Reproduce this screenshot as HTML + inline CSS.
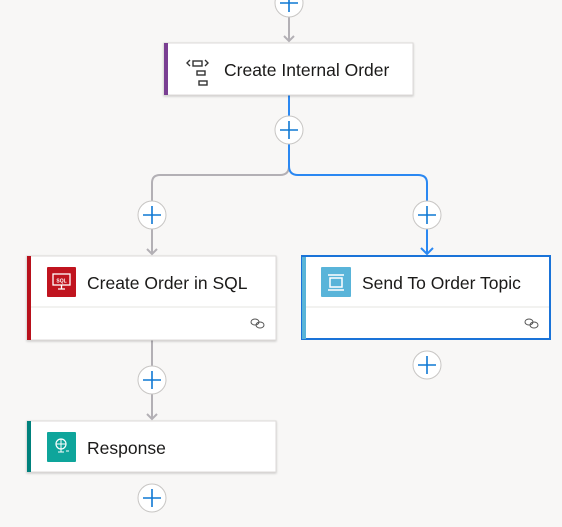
<!DOCTYPE html>
<html><head><style>
body{margin:0;background:#f8f7f6;width:562px;height:527px;overflow:hidden;font-family:"Liberation Sans",sans-serif;}
</style></head><body>
<svg width="562" height="527" xmlns="http://www.w3.org/2000/svg" style="position:absolute;left:0;top:0">
<defs>
<filter id="sh" x="-5%" y="-10%" width="110%" height="130%"><feDropShadow dx="0" dy="1" stdDeviation="1" flood-color="#000" flood-opacity="0.2"/></filter>
</defs>
<g fill="none" stroke-width="2">
<path d="M289 10 V41" stroke="#b3b0b5"/>
<path d="M284 36 L289 41 L294 36" stroke="#b3b0b5"/>
<path d="M289 95 V166 Q289 175 280 175 H160 Q152 175 152 183 V254" stroke="#b3b0b5"/>
<path d="M147 249 L152 254 L157 249" stroke="#b3b0b5"/>
<path d="M289 95 V166 Q289 175 298 175 H418 Q427 175 427 183 V254" stroke="#2b88f2"/>
<path d="M421 248 L427 254 L433 248" stroke="#2b88f2"/>
<path d="M152 340 V419" stroke="#b3b0b5"/>
<path d="M147 414 L152 419 L157 414" stroke="#b3b0b5"/>
</g>
<g stroke="#c8c6c4" fill="#fff" stroke-width="1">
<circle cx="289" cy="3" r="14"/>
<circle cx="289" cy="130" r="14"/>
<circle cx="152" cy="215" r="14"/>
<circle cx="427" cy="215" r="14"/>
<circle cx="152" cy="380" r="14"/>
<circle cx="427" cy="365" r="14"/>
<circle cx="152" cy="498" r="14"/>
</g>
<g stroke="#0f78d4" stroke-width="1.6">
<path d="M280 3 H298 M289 -6 V12"/>
<path d="M280 130 H298 M289 121 V139"/>
<path d="M143 215 H161 M152 206 V224"/>
<path d="M418 215 H436 M427 206 V224"/>
<path d="M143 380 H161 M152 371 V389"/>
<path d="M418 365 H436 M427 356 V374"/>
<path d="M143 498 H161 M152 489 V507"/>
</g>
<rect x="164" y="43" width="249" height="52" fill="#fff" stroke="#dcdad8" filter="url(#sh)"/>
<rect x="164" y="43" width="4" height="52" fill="#7a3f92"/>
<g fill="none" stroke="#333" stroke-width="1.4">
<rect x="193" y="61" width="9" height="5"/><rect x="197" y="71" width="8" height="4"/><rect x="199" y="81" width="8" height="4"/>
<path d="M190 60 L187 63 L190 66 M205 60 L208 63 L205 66"/>
</g>
<text x="224" y="76" font-size="17.5" fill="#1b1a19">Create Internal Order</text>
<rect x="27" y="256" width="249" height="84" fill="#fff" stroke="#dcdad8" filter="url(#sh)"/>
<rect x="27" y="256" width="4" height="84" fill="#b8111c"/>
<line x1="31" y1="307" x2="276" y2="307" stroke="#e6e4e2"/>
<rect x="47" y="267" width="29" height="30" rx="1" fill="#c0141f"/>
<rect x="53" y="274" width="17" height="11" fill="none" stroke="#fff" stroke-width="1.3"/>
<text x="61.5" y="282.5" font-size="5" fill="#fff" text-anchor="middle" font-weight="bold">SQL</text>
<path d="M58 289 H65 M61.5 285 V289" stroke="#fff" stroke-width="1.3"/>
<text x="87" y="289" font-size="17.5" fill="#1b1a19">Create Order in SQL</text>
<g fill="none" stroke="#555" stroke-width="1"><ellipse cx="255" cy="322" rx="4" ry="3"/><ellipse cx="260" cy="325" rx="4" ry="3"/></g>
<rect x="302" y="256" width="248" height="83" fill="#fff" stroke="#1a73d8" stroke-width="2"/>
<rect x="302" y="257" width="4" height="82" fill="#59b4d9"/>
<line x1="306" y1="307" x2="549" y2="307" stroke="#e6e4e2"/>
<rect x="321" y="267" width="30" height="30" rx="1" fill="#59b4d9"/>
<path d="M328 275 H344 M328 290 H344 M330 278 H342 V287 H330 Z" stroke="#fff" stroke-width="1.5" fill="none"/>
<text x="362" y="289" font-size="17.5" fill="#1b1a19">Send To Order Topic</text>
<g fill="none" stroke="#555" stroke-width="1"><ellipse cx="529" cy="322" rx="4" ry="3"/><ellipse cx="534" cy="325" rx="4" ry="3"/></g>
<rect x="27" y="421" width="249" height="51" fill="#fff" stroke="#dcdad8" filter="url(#sh)"/>
<rect x="27" y="421" width="4" height="51" fill="#00817c"/>
<rect x="47" y="432" width="29" height="30" rx="1" fill="#0ea59b"/>
<circle cx="61" cy="444" r="5" fill="none" stroke="#fff" stroke-width="1.2"/>
<path d="M56 444 H66 M61 439 V449 M58 452 H64 M61 449 V452 M66 451 L69 451" stroke="#fff" stroke-width="1"/>
<text x="87" y="454" font-size="17.5" fill="#1b1a19">Response</text>
</svg>
</body></html>
